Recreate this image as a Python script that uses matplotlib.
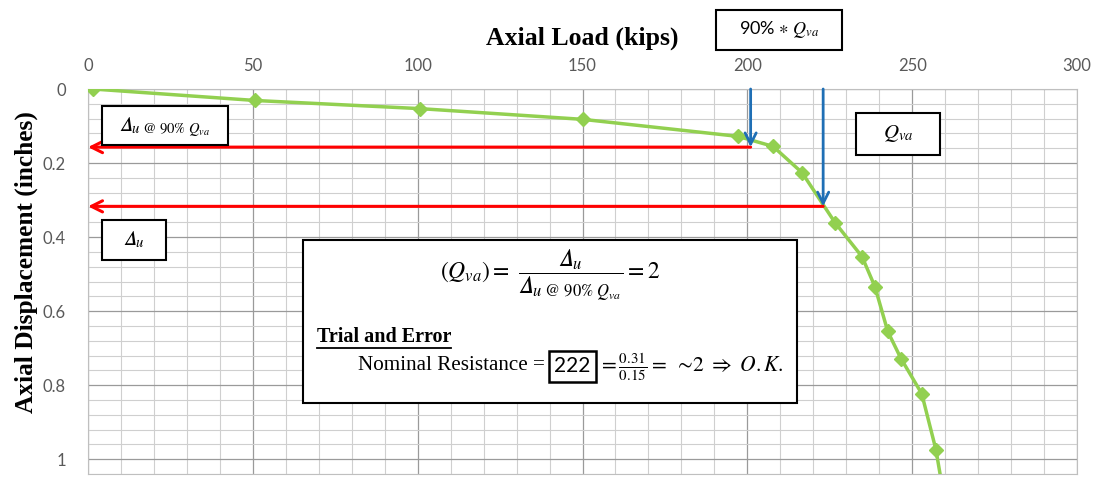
import matplotlib
matplotlib.use("Agg")
import matplotlib.pyplot as plt
from matplotlib.patches import Rectangle
from matplotlib.ticker import MultipleLocator, FuncFormatter

plt.rcParams['mathtext.fontset'] = 'stix'

# load-displacement curve
load_kips = [1.5, 50.7, 100.7, 150.1, 197.2, 207.8, 216.6, 226.6, 234.8, 238.7,
             242.6, 246.6, 252.9, 257.2, 260.0]
disp_in = [0.0, 0.031, 0.053, 0.082, 0.128, 0.155, 0.226, 0.361, 0.453, 0.534,
           0.655, 0.728, 0.823, 0.974, 1.12]

# the two marked points: 90% of Qva and Qva
load_90 = 201
disp_90 = 0.157
load_va = 223
disp_va = 0.317

W, H = 1102, 487
fig = plt.figure(figsize=(W / 100, H / 100), dpi=100)


def fx(x):
    return x / W


def fy(y):
    return 1 - y / H


ax = fig.add_axes([fx(88), fy(474), (1077 - 88) / W, (474 - 89) / H])
ax.set_xlim(0, 300)
ax.set_ylim(1.04, 0)
ax.xaxis.tick_top()
ax.xaxis.set_major_locator(MultipleLocator(50))
ax.xaxis.set_minor_locator(MultipleLocator(10))
ax.yaxis.set_major_locator(MultipleLocator(0.2))
ax.yaxis.set_minor_locator(MultipleLocator(0.04))
ax.yaxis.set_major_formatter(FuncFormatter(lambda v, p: '%g' % round(v, 2)))
ax.tick_params(which='both', length=0, labelsize=12, labelcolor='#595959')
ax.tick_params(axis='x', pad=11)
ax.tick_params(axis='y', pad=16)
for lab in ax.get_xticklabels() + ax.get_yticklabels():
    lab.set_fontfamily('Lato')
ax.grid(which='major', color='#9a9a9a', lw=0.9)
ax.grid(which='minor', color='#cfcfcf', lw=0.8)
ax.set_axisbelow(True)
for s in ax.spines.values():
    s.set_color('#bfbfbf')

ax.plot(load_kips, disp_in, color='#92D050', lw=2.5, marker='D', ms=7.5,
        zorder=3, clip_on=True)

# red arrows pointing at the displacement axis
for ld, d in [(load_90, disp_90), (load_va, disp_va)]:
    ax.annotate('', xy=(0, d), xytext=(ld, d),
                arrowprops=dict(arrowstyle='->', color='#ff0000', lw=2.2,
                                mutation_scale=20, shrinkA=0, shrinkB=0),
                zorder=4, annotation_clip=False)
# blue arrows from the load axis
for ld, d in [(load_90, disp_90), (load_va, disp_va)]:
    ax.annotate('', xy=(ld, d), xytext=(ld, 0),
                arrowprops=dict(arrowstyle='->', color='#1f6fb5', lw=2.0,
                                mutation_scale=20, shrinkA=0, shrinkB=0),
                zorder=4, annotation_clip=False)

fig.text(fx(582), fy(38), 'Axial Load (kips)', family='Liberation Serif',
         weight='bold', fontsize=18.5, ha='center', va='center')
fig.text(fx(26), fy(262), 'Axial Displacement (inches)', family='Liberation Serif',
         weight='bold', fontsize=18.3, ha='center', va='center', rotation=90)


def box(x0, y0, x1, y1, lw=1.5):
    fig.add_artist(Rectangle((fx(x0), fy(y1)), (x1 - x0) / W, (y1 - y0) / H,
                             transform=fig.transFigure, fc='white', ec='black',
                             lw=lw, zorder=5))


D = '\U0001D6E5'

box(102, 106, 228, 145)
fig.text(fx(165), fy(127), r'$%s_{u\ \mathrm{@\ 90\%%}\ Q_{va}}$' % D,
         fontsize=15, ha='center', va='center', zorder=6)

box(102, 220, 166, 260)
fig.text(fx(134), fy(240), r'$%s_u$' % D, fontsize=15, ha='center',
         va='center', zorder=6)

box(716, 10, 842, 50)
fig.text(fx(779), fy(30), r'90% $\ast\ Q_{va}$', family='Lato',
         fontsize=13, ha='center', va='center', zorder=6)

box(856, 113, 940, 155)
fig.text(fx(898), fy(134), r'$Q_{va}$', fontsize=15, ha='center',
         va='center', zorder=6)

# equation box
box(303, 240, 797, 403)
fig.text(fx(550), fy(276),
         r'$(Q_{va}) =\ \dfrac{%s_u}{%s_{u\ \mathrm{@\ 90\%%}\ Q_{va}}} = 2$' % (D, D),
         fontsize=17, ha='center', va='center', zorder=6)
t_trial = fig.text(fx(317), fy(337), 'Trial and Error', family='Liberation Serif',
                   weight='bold', fontsize=14.5, ha='left', va='center', zorder=6)
fig.text(fx(545), fy(366), 'Nominal Resistance =', family='Liberation Serif',
         fontsize=15.2, ha='right', va='center', zorder=6)
box(549, 351, 596, 382, lw=1.8)
fig.text(fx(572.5), fy(366), '222', family='Lato', fontsize=15, ha='center',
         va='center', zorder=6)
fig.text(fx(598), fy(367),
         r'$=\frac{\mathrm{0.31}}{\mathrm{0.15}} =\ \sim\!2\ \Rightarrow\ O.K.$',
         fontsize=15.5, ha='left', va='center', zorder=6)

# underline for the heading
fig.canvas.draw()
bb = t_trial.get_window_extent().transformed(fig.transFigure.inverted())
fig.add_artist(plt.Line2D([bb.x0, bb.x1], [bb.y0 - 0.002, bb.y0 - 0.002],
                          transform=fig.transFigure, color='black', lw=1.3,
                          zorder=6))

fig.savefig('out.png', dpi=100)
